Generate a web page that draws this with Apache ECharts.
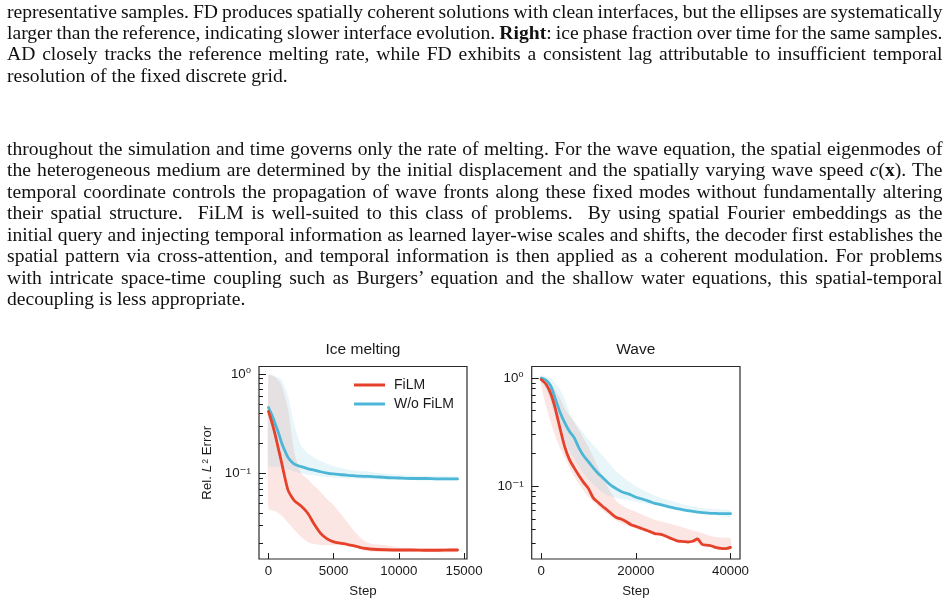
<!DOCTYPE html>
<html>
<head>
<meta charset="utf-8">
<script src="https://cdn.jsdelivr.net/npm/echarts@6/dist/echarts.min.js"></script>
<style>
html,body{margin:0;padding:0;background:#fff;width:952px;height:606px;overflow:hidden;}
#chart{position:absolute;left:0;top:0;width:952px;height:606px;}
#text{position:absolute;left:0;top:0;width:952px;height:606px;pointer-events:none;}
.ln{position:absolute;left:7px;white-space:nowrap;font-family:'Liberation Serif','Times New Roman',serif;font-size:19.6px;line-height:21.5px;color:#111;}
</style>
</head>
<body>
<div id="chart"></div>
<div id="text"></div>
<script>
// ---------------- text ----------------
const captionLines = [
  'representative samples. FD produces spatially coherent solutions with clean interfaces, but the ellipses are systematically',
  'larger than the reference, indicating slower interface evolution. <b>Right</b>: ice phase fraction over time for the same samples.',
  'AD closely tracks the reference melting rate, while FD exhibits a consistent lag attributable to insufficient temporal',
  'resolution of the fixed discrete grid.'
];
const captionBaselines = [18.2, 39.5, 60.8, 82.1];
const bodyLines = [
  'throughout the simulation and time governs only the rate of melting. For the wave equation, the spatial eigenmodes of',
  'the heterogeneous medium are determined by the initial displacement and the spatially varying wave speed <i>c</i>(<b>x</b>). The',
  'temporal coordinate controls the propagation of wave fronts along these fixed modes without fundamentally altering',
  'their spatial structure.&nbsp; FiLM is well-suited to this class of problems.&nbsp; By using spatial Fourier embeddings as the',
  'initial query and injecting temporal information as learned layer-wise scales and shifts, the decoder first establishes the',
  'spatial pattern via cross-attention, and temporal information is then applied as a coherent modulation. For problems',
  'with intricate space-time coupling such as Burgers\u2019 equation and the shallow water equations, this spatial-temporal',
  'decoupling is less appropriate.'
];
const bodyBaselines = [155.2, 176.7, 198.2, 219.7, 241.2, 262.7, 284.2, 305.7];

// ---------------- chart data ----------------
const seriesNames = ['FiLM', 'W/o FiLM'];
const chartTitles = ['Ice melting', 'Wave'];

// Ice melting
const iceSteps = [0,250,500,750,1000,1250,1500,1750,2000,2500,3000,3500,4000,4500,5000,5500,6000,6500,7000,7500,8000,9000,10000,11000,12000,13000,14000,14500];
const iceFilm = [0.42,0.33,0.25,0.18,0.13,0.092,0.068,0.059,0.053,0.047,0.040,0.031,0.025,0.022,0.0205,0.0199,0.0194,0.0188,0.0181,0.0176,0.0173,0.0171,0.0170,0.0170,0.0169,0.0169,0.0170,0.0170];
const iceNoFilm = [0.46,0.39,0.32,0.26,0.205,0.17,0.145,0.132,0.124,0.117,0.112,0.108,0.104,0.101,0.099,0.0975,0.096,0.095,0.094,0.0935,0.093,0.091,0.090,0.089,0.089,0.088,0.088,0.088];
const iceBandSteps = [0,500,1000,1500,2000,2500,3000,3500,4000,4500,5000,5500,6000,6500,7000,7500,8000,9000,10000,12000,14500];
const iceFilmHi = [0.98,0.93,0.78,0.45,0.16,0.10,0.088,0.075,0.065,0.055,0.048,0.040,0.033,0.027,0.023,0.0205,0.0195,0.019,0.018,0.0177,0.0177];
const iceFilmLo = [0.044,0.042,0.038,0.032,0.027,0.023,0.0205,0.0195,0.019,0.019,0.019,0.019,0.019,0.0185,0.0175,0.0166,0.0163,0.0162,0.0162,0.0162,0.0162];
const iceNoFilmHi = [0.98,0.95,0.88,0.6,0.3,0.19,0.16,0.145,0.133,0.125,0.119,0.114,0.11,0.107,0.106,0.105,0.103,0.1,0.097,0.094,0.093];
const iceNoFilmLo = [0.118,0.117,0.115,0.11,0.104,0.1,0.097,0.095,0.093,0.092,0.091,0.09,0.089,0.089,0.088,0.088,0.087,0.087,0.086,0.085,0.085];

// Wave
const waveSteps = [0,1000,2000,3000,4000,5000,6000,7000,8000,9000,10000,11000,12000,13000,14000,15000,16000,17000,18000,19000,20000,21000,22000,23000,24000,25000,26000,27000,28000,29000,30000,31000,32000,33000,34000,35000,36000,37000,38000,39000,40000];
const waveFilm = [0.97,0.88,0.72,0.52,0.34,0.23,0.175,0.147,0.125,0.108,0.095,0.078,0.071,0.065,0.06,0.055,0.051,0.0495,0.047,0.044,0.0425,0.041,0.0395,0.038,0.0365,0.036,0.035,0.0335,0.0322,0.031,0.0308,0.0305,0.031,0.0325,0.029,0.0285,0.028,0.027,0.0266,0.0265,0.0272];
const waveNoFilm = [1.0,0.96,0.85,0.64,0.48,0.385,0.32,0.28,0.225,0.19,0.168,0.148,0.132,0.12,0.109,0.1,0.094,0.089,0.086,0.083,0.079,0.077,0.0745,0.072,0.0695,0.068,0.0662,0.0645,0.063,0.0617,0.0605,0.0595,0.0585,0.0577,0.057,0.0566,0.0562,0.056,0.0557,0.0557,0.0557];
const waveBandSteps = [0,1000,2000,3000,4000,5000,6000,7000,8000,10000,12000,14000,16000,18000,20000,22000,24000,26000,28000,30000,32000,34000,36000,38000,40000];
const waveNoFilmHi = [1.06,1.04,1.0,0.9,0.78,0.64,0.47,0.4,0.35,0.27,0.215,0.17,0.135,0.115,0.1,0.09,0.082,0.076,0.072,0.068,0.065,0.063,0.062,0.061,0.06];
const waveNoFilmLo = [0.92,0.8,0.6,0.43,0.34,0.26,0.21,0.18,0.15,0.115,0.095,0.082,0.078,0.075,0.072,0.069,0.067,0.064,0.062,0.06,0.058,0.057,0.055,0.053,0.052];
const waveFilmHi = [1.04,0.98,0.88,0.77,0.65,0.52,0.45,0.39,0.33,0.23,0.15,0.1,0.072,0.063,0.058,0.053,0.049,0.0465,0.044,0.0415,0.039,0.037,0.0345,0.0335,0.033];
const waveFilmLo = [0.85,0.56,0.39,0.29,0.225,0.185,0.148,0.123,0.105,0.08,0.065,0.055,0.048,0.0435,0.0405,0.038,0.036,0.034,0.0325,0.0315,0.03,0.029,0.0278,0.0267,0.0257];

// Tick values
const iceXTicks = [0, 5000, 10000, 15000];
const waveXTicks = [0, 20000, 40000];
const yMajorTicks = [0.1, 1];
const yMinorTicks = [0.02,0.03,0.04,0.05,0.06,0.07,0.08,0.09,0.2,0.3,0.4,0.5,0.6,0.7,0.8,0.9];

// ---------------- text layout ----------------
const TEXT_W = 935.5;
const FS = 19.6, LH = 21.5;
const BASE_OFF = (LH - FS * 1.107) / 2 + FS * 0.891;
function placeLines(lines, baselines) {
  const host = document.getElementById('text');
  lines.forEach((html, i) => {
    const d = document.createElement('div');
    d.className = 'ln';
    d.style.top = (baselines[i] - BASE_OFF) + 'px';
    const s = document.createElement('span');
    s.innerHTML = html;
    d.appendChild(s);
    host.appendChild(d);
    if (i !== lines.length - 1) {
      const w = s.getBoundingClientRect().width;
      const n = (s.textContent.match(/[ \u00a0]/g) || []).length;
      if (n) s.style.wordSpacing = ((TEXT_W - w) / n) + 'px';
    }
  });
}
placeLines(captionLines, captionBaselines);
placeLines(bodyLines, bodyBaselines);

// ---------------- chart ----------------
const FONT = "'Liberation Sans', Arial, Helvetica, 'DejaVu Sans', sans-serif";
const INK = '#1a1a1a';
const RED = '#E5412B';
const BLUE = '#4CB6D6';
const RED_BAND = 'rgba(236,80,62,0.14)';
const BLUE_BAND = 'rgba(80,186,216,0.13)';
const lg = v => Math.log10(v);

const ySpec = [
  {min: -1.860, max: 0.075},
  {min: -1.673, max: 0.107}
];
const xSpec = [
  {min: -725, max: 15225, ticks: iceXTicks},
  {min: -2000, max: 42000, ticks: waveXTicks}
];
const grids = [
  {left: 259, top: 366.5, width: 208, height: 192.5},
  {left: 531.7, top: 366.5, width: 208.3, height: 192.5}
];

const SUPS = {'-': '\u207B', '0': '\u2070', '1': '\u00B9', '2': '\u00B2', '3': '\u00B3'};
function supLabel(v) {
  const e = String(Math.round(v));
  return '10' + e.split('').map(c => SUPS[c]).join('');
}

const xAxes = [], yAxes = [];
for (let g = 0; g < 2; g++) {
  xAxes.push({
    type: 'value', gridIndex: g, min: xSpec[g].min, max: xSpec[g].max, position: 'bottom',
    name: 'Step', nameLocation: 'middle', nameGap: 24,
    nameTextStyle: {fontFamily: FONT, fontSize: 13.3, color: INK, lineHeight: 16},
    axisLine: {show: false, onZero: false},
    axisTick: {show: true, inside: true, length: 6, lineStyle: {color: INK, width: 1}, customValues: xSpec[g].ticks},
    axisLabel: {show: true, margin: 6, fontFamily: FONT, fontSize: 13.3, color: INK, customValues: xSpec[g].ticks,
                formatter: v => String(Math.round(v))},
    splitLine: {show: false}
  });
  const yMajor = {
    type: 'value', gridIndex: g, min: ySpec[g].min, max: ySpec[g].max, position: 'left',
    axisLine: {show: false, onZero: false},
    axisTick: {show: true, inside: true, length: 7, lineStyle: {color: INK, width: 1}, customValues: yMajorTicks.map(lg)},
    axisLabel: {show: true, margin: 8, formatter: supLabel, fontFamily: FONT, fontSize: 13.3, color: INK, customValues: yMajorTicks.map(lg)},
    splitLine: {show: false}
  };
  if (g === 0) {
    yMajor.name = 'Rel. {i|L}{s|\u00B2} Error';
    yMajor.nameLocation = 'middle';
    yMajor.nameGap = 44;
    yMajor.nameRotate = 90;
    yMajor.nameTextStyle = {
      fontFamily: FONT, fontSize: 13.3, color: INK, lineHeight: 16,
      rich: {
        i: {fontSize: 13.3, lineHeight: 16, fontFamily: FONT, fontStyle: 'italic', color: INK},
        s: {fontSize: 13.3, lineHeight: 16, fontFamily: FONT, color: INK, padding: [0, 0, 0, 1.5]}
      }
    };
  }
  yAxes.push(yMajor);
  yAxes.push({
    type: 'value', gridIndex: g, min: ySpec[g].min, max: ySpec[g].max, position: 'left', offset: 0,
    axisLine: {show: false, onZero: false},
    axisTick: {show: true, inside: true, length: 4, lineStyle: {color: INK, width: 1}, customValues: yMinorTicks.map(lg)},
    axisLabel: {show: false},
    splitLine: {show: false}
  });
}

function bandSeries(name, xs, lo, hi, color, g) {
  const data = xs.map((x, i) => [x, lg(lo[i]), lg(hi[i])]);
  return {
    type: 'custom', name: name, xAxisIndex: g, yAxisIndex: 2 * g, silent: true, z: 1, clip: true,
    encode: {x: 0, y: [1, 2]},
    data: data,
    renderItem: function (params, api) {
      if (params.dataIndex !== 0) return null;
      const up = [], dn = [];
      for (let i = 0; i < data.length; i++) {
        up.push(api.coord([data[i][0], data[i][2]]));
        dn.push(api.coord([data[i][0], data[i][1]]));
      }
      return {type: 'polygon', shape: {points: up.concat(dn.reverse()), smooth: 0.15}, style: {fill: color, stroke: null}};
    }
  };
}
function lineSeries(name, xs, ys, color, g) {
  return {
    type: 'line', name: name, xAxisIndex: g, yAxisIndex: 2 * g, z: 3,
    data: xs.map((x, i) => [x, lg(ys[i])]),
    showSymbol: false, smooth: 0.25, silent: true,
    color: color,
    lineStyle: {color: color, width: 2.8, cap: 'round', join: 'round'},
    itemStyle: {color: color}
  };
}

const series = [
  bandSeries('FiLM band', iceBandSteps, iceFilmLo, iceFilmHi, RED_BAND, 0),
  bandSeries('W/o FiLM band', iceBandSteps, iceNoFilmLo, iceNoFilmHi, BLUE_BAND, 0),
  lineSeries(seriesNames[1], iceSteps, iceNoFilm, BLUE, 0),
  lineSeries(seriesNames[0], iceSteps, iceFilm, RED, 0),
  bandSeries('FiLM band', waveBandSteps, waveFilmLo, waveFilmHi, RED_BAND, 1),
  bandSeries('W/o FiLM band', waveBandSteps, waveNoFilmLo, waveNoFilmHi, BLUE_BAND, 1),
  lineSeries(seriesNames[1], waveSteps, waveNoFilm, BLUE, 1),
  lineSeries(seriesNames[0], waveSteps, waveFilm, RED, 1)
];

const chart = echarts.init(document.getElementById('chart'), null, {renderer: 'canvas'});
chart.setOption({
  backgroundColor: 'transparent',
  animation: false,
  title: [
    {text: chartTitles[0], left: 363, top: 341, textAlign: 'center', padding: 0,
     textStyle: {fontFamily: FONT, fontSize: 15.5, fontWeight: 'normal', color: INK, lineHeight: 18}},
    {text: chartTitles[1], left: 635.8, top: 341, textAlign: 'center', padding: 0,
     textStyle: {fontFamily: FONT, fontSize: 15.5, fontWeight: 'normal', color: INK, lineHeight: 18}}
  ],
  legend: {
    data: [{name: seriesNames[0], icon: 'rect'}, {name: seriesNames[1], icon: 'rect'}],
    orient: 'vertical', left: 354, top: 377, padding: 0,
    itemWidth: 31, itemHeight: 3, itemGap: 3,
    selectedMode: false,
    textStyle: {fontFamily: FONT, fontSize: 14, color: INK, lineHeight: 16, padding: [0, 0, 0, 4]}
  },
  grid: grids.map(g => Object.assign({show: true, borderColor: '#2a2a2a', borderWidth: 1.2, backgroundColor: 'transparent', containLabel: false, outerBoundsMode: 'none'}, g)),
  xAxis: xAxes,
  yAxis: yAxes,
  series: series
});
</script>
</body>
</html>
